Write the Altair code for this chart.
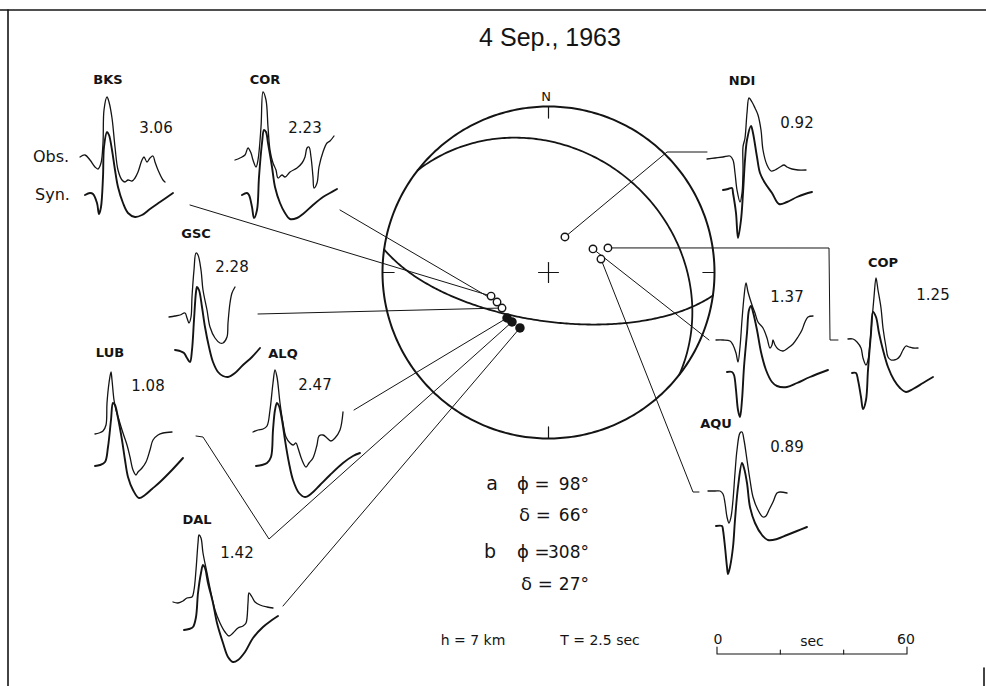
import altair as alt
import numpy as np
import pandas as pd

W, H = 986, 686

TITLE = "4 Sep., 1963"
# nodal planes: strike, dip (degrees)
PLANES = {"a": (98, 66), "b": (308, 27)}
NOTE_DEPTH = "h = 7 km"
NOTE_DURATION = "T = 2.5 sec"

# stations, amplitude ratios, first-motion polarity and position on the focal sphere
# (equal-area lower hemisphere, unit radius: east, north)
STATIONS = ["BKS", "COR", "GSC", "LUB", "ALQ", "DAL", "NDI", "ST8", "AQU", "COP"]
NAMES = ["BKS", "COR", "GSC", "LUB", "ALQ", "DAL", "NDI", "", "AQU", "COP"]
RATIOS = ["3.06", "2.23", "2.28", "1.08", "2.47", "1.42", "0.92", "1.37", "0.89", "1.25"]
COMPRESSION = [False, False, False, True, True, True, False, False, False, False]
SPHERE_E = [-0.346, -0.310, -0.280, -0.220, -0.250, -0.172, 0.099, 0.268, 0.316, 0.358]
SPHERE_N = [-0.142, -0.178, -0.214, -0.298, -0.274, -0.334, 0.214, 0.142, 0.081, 0.148]

# waveforms: time offset and amplitude (plot units, amplitude positive up)
OBS_T = {
    "BKS": [0, 5, 10, 15, 18, 21, 23, 24, 27, 29, 32, 35, 38, 42, 45, 48, 52, 55, 58, 62, 64, 67, 70, 73, 75, 78, 83, 85],
    "COR": [0, 5, 10, 13, 16, 18, 21, 23, 26, 28, 31, 33, 35, 38, 41, 43, 47, 50, 55, 62, 67, 70, 72, 74, 76, 78, 79, 82, 84, 88, 92, 95, 99],
    "GSC": [0, 6, 11, 16, 18, 20, 22, 23, 25, 27, 29, 32, 34, 38, 41, 46, 51, 54, 58, 59, 61, 63, 66],
    "LUB": [0, 4, 8, 11, 12, 14, 16, 17, 19, 21, 24, 28, 32, 35, 38, 41, 43, 47, 51, 55, 58, 63, 68, 77],
    "ALQ": [0, 5, 10, 14, 17, 20, 22, 24, 27, 30, 33, 37, 40, 43, 45, 49, 53, 56, 60, 64, 66, 70, 74, 78, 82, 87, 90],
    "DAL": [0, 5, 10, 14, 19, 21, 23, 25, 26, 28, 30, 34, 38, 42, 47, 52, 56, 60, 65, 70, 73, 75, 76, 79, 82, 87, 94, 100],
    "NDI": [0, 8, 16, 23, 26, 28, 30, 33, 35, 36, 36, 38, 40, 42, 45, 48, 51, 54, 56, 60, 64, 68, 73, 77, 80, 85, 91, 99],
    "ST8": [0, 7, 14, 17, 20, 22, 24, 26, 28, 30, 32, 36, 39, 42, 47, 51, 54, 56, 57, 59, 62, 67, 72, 77, 82, 86, 89, 92, 97],
    "AQU": [0, 7, 12, 15, 17, 19, 21, 23, 25, 27, 29, 32, 34, 36, 39, 42, 45, 50, 55, 58, 61, 65, 69, 72, 79],
    "COP": [0, 5, 9, 13, 15, 18, 20, 22, 24, 26, 28, 30, 33, 35, 38, 40, 43, 46, 49, 52, 55, 58, 61, 65, 70],
}
OBS_A = {
    "BKS": [0, 2, -3, -10, -12, -6, 14, 47, 60, 55, 39, 10, -13, -23, -25, -23, -24, -21, -15, -3, 0, -5, -1, 1, -5, -13, -23, -25],
    "COR": [0, 2, 5, 12, 7, 0, -7, 0, 33, 68, 60, 33, 10, -3, -10, -18, -15, -17, -12, -8, -3, 3, 12, 13, 3, -17, -28, -23, -7, 8, 17, 19, 24],
    "GSC": [0, 1, 2, 4, -1, -6, 0, 20, 47, 64, 62, 47, 27, 7, -10, -21, -26, -26, -20, -6, 14, 24, 30],
    "LUB": [0, 1, 3, 9, 31, 51, 62, 54, 34, 24, 14, 1, -11, -23, -36, -41, -38, -34, -28, -16, -6, -1, 1, 2],
    "ALQ": [0, 2, 3, 6, 22, 49, 62, 55, 29, 9, -5, -11, -13, -11, -16, -28, -35, -31, -26, -13, -4, -3, -6, -9, -6, 2, 20],
    "DAL": [0, -1, 1, 4, 5, 12, 32, 59, 67, 64, 49, 29, 9, -8, -21, -30, -34, -31, -26, -24, -21, -1, 9, 5, 0, -3, -5, -6],
    "NDI": [0, 1, 2, 3, -1, -14, -31, -43, -34, -11, 12, 21, 46, 61, 57, 51, 44, 29, 9, -6, -12, -11, -8, -6, -8, -10, -11, -11],
    "ST8": [0, 0, -1, -5, -13, -22, -7, 20, 43, 57, 48, 35, 27, 18, 12, 2, -8, -5, 0, -5, -9, -11, -8, -4, 3, 10, 18, 23, 24],
    "AQU": [0, 0, 0, -3, -12, -26, -32, -26, -9, 18, 41, 58, 59, 51, 31, 11, -6, -19, -26, -25, -19, -11, -2, -1, -2],
    "COP": [0, 0, -3, -9, -19, -26, -21, -4, 19, 42, 61, 49, 31, 11, -8, -18, -21, -21, -20, -17, -11, -7, -8, -9, -9],
}
SYN_T = {
    "BKS": [5, 10, 13, 17, 19, 21, 23, 24, 27, 29, 32, 35, 38, 43, 48, 55, 62, 70, 80, 93],
    "COR": [7, 12, 14, 17, 19, 22, 24, 27, 29, 31, 33, 37, 40, 45, 50, 55, 62, 68, 78, 88, 95, 102],
    "GSC": [6, 11, 15, 18, 21, 23, 25, 27, 28, 30, 33, 36, 40, 44, 49, 54, 59, 66, 74, 83, 91],
    "LUB": [0, 5, 10, 13, 16, 18, 20, 23, 27, 30, 33, 38, 44, 50, 57, 65, 77, 88],
    "ALQ": [3, 9, 14, 18, 20, 22, 24, 26, 29, 32, 36, 40, 46, 52, 59, 67, 77, 90, 100, 107],
    "DAL": [11, 16, 20, 23, 25, 28, 30, 32, 35, 40, 44, 50, 55, 60, 65, 72, 80, 90, 99, 105],
    "NDI": [16, 21, 25, 26, 29, 31, 34, 36, 38, 40, 44, 46, 50, 53, 58, 65, 72, 80, 90, 98, 105],
    "ST8": [11, 16, 18, 20, 22, 24, 26, 28, 31, 33, 35, 37, 41, 45, 50, 56, 61, 71, 81, 94, 112],
    "AQU": [8, 14, 15, 17, 19, 20, 22, 25, 27, 30, 34, 36, 39, 42, 47, 54, 60, 69, 79, 89, 99],
    "COP": [4, 8, 10, 13, 15, 18, 20, 23, 25, 28, 31, 35, 40, 46, 52, 58, 65, 75, 85],
}
SYN_A = {
    "BKS": [-38, -36, -37, -46, -57, -50, -20, 10, 25, 22, 7, -13, -30, -46, -56, -60, -58, -52, -45, -36],
    "COR": [-35, -33, -35, -47, -58, -50, -17, 17, 30, 28, 17, -7, -27, -43, -53, -59, -58, -54, -45, -37, -33, -29],
    "GSC": [-33, -34, -36, -41, -45, -33, -3, 25, 30, 27, 10, -10, -30, -45, -55, -59, -60, -56, -48, -40, -31],
    "LUB": [-32, -31, -28, -13, 14, 31, 29, 16, -6, -26, -43, -56, -64, -61, -55, -48, -36, -24],
    "ALQ": [-34, -33, -31, -25, 2, 22, 29, 26, 12, -8, -31, -48, -61, -65, -61, -53, -43, -31, -24, -21],
    "DAL": [-28, -27, -25, -15, 9, 29, 37, 34, 19, -1, -21, -41, -55, -60, -58, -50, -36, -25, -18, -14],
    "NDI": [-31, -30, -29, -34, -54, -79, -61, -34, -1, 19, 33, 26, 2, -14, -24, -34, -45, -43, -38, -35, -33],
    "ST8": [-32, -32, -35, -50, -70, -77, -60, -27, 7, 30, 34, 28, 10, -12, -30, -42, -46, -47, -43, -37, -30],
    "AQU": [-35, -35, -39, -56, -76, -83, -76, -56, -29, 4, 28, 23, 8, -16, -32, -44, -49, -48, -44, -40, -36],
    "COP": [-34, -34, -41, -58, -70, -61, -31, 6, 27, 22, 6, -11, -28, -41, -49, -53, -50, -44, -38],
}

# time scale bar (seconds)
SCALE_TICKS = [0, 20, 40, 60]
SCALE_LABELS = ["0", "sec", "60"]

# ---------------- layout (page units) ----------------
NET_CX, NET_CY, NET_R = 548.5, 272.5, 166.0
LAYOUT = {
    # trace origin, station-name position, ratio position, leader route (from sphere point)
    "BKS": dict(o=(80, 157), name=(108, 80), ratio=(156, 128), lead=[(190, 205)]),
    "COR": dict(o=(235, 160), name=(265, 80), ratio=(305, 128), lead=[(340, 210)]),
    "GSC": dict(o=(169, 317), name=(196, 234), ratio=(232, 267), lead=[(258, 314)]),
    "LUB": dict(o=(95, 434), name=(110, 353), ratio=(148, 386), lead=[(269, 539), (203, 437), (196, 436)]),
    "ALQ": dict(o=(253, 432), name=(283, 354), ratio=(315, 385), lead=[(354, 410)]),
    "DAL": dict(o=(173, 602), name=(197, 520), ratio=(237, 553), lead=[(283, 606)]),
    "NDI": dict(o=(707, 159), name=(742, 81), ratio=(797, 123), lead=[(667, 152), (707, 152)]),
    "ST8": dict(o=(716, 340), name=(745, 262), ratio=(787, 297), lead=[(709, 340)]),
    "AQU": dict(o=(708, 491), name=(716, 424), ratio=(787, 447), lead=[(693, 492), (699, 492)]),
    "COP": dict(o=(848, 339), name=(883, 263), ratio=(933, 295), lead=[(829, 248), (830, 340), (838, 340)]),
}
BAR_X0, BAR_Y, PX_PER_SEC = 717, 654, 190 / 60
INK = "#141414"
FONT = "DejaVu Sans"


def to_page(e, n):
    return NET_CX + NET_R * np.asarray(e), NET_CY - NET_R * np.asarray(n)


def plane_curve(strike, dip, n=181):
    s, d = np.radians(strike), np.radians(dip)
    t = np.radians(np.linspace(0, 180, n))
    sv = np.array([np.sin(s), np.cos(s), 0.0])
    dv = np.array([np.cos(d) * np.sin(s + np.pi / 2), np.cos(d) * np.cos(s + np.pi / 2), np.sin(d)])
    v = np.outer(np.cos(t), sv) + np.outer(np.sin(t), dv)
    plunge = np.arcsin(np.clip(v[:, 2], -1, 1))
    trend = np.arctan2(v[:, 0], v[:, 1])
    r = np.sqrt(2) * np.sin((np.pi / 2 - plunge) / 2)
    return r * np.sin(trend), r * np.cos(trend)


xs = alt.Scale(domain=[0, W], nice=False, zero=False)
ys = alt.Scale(domain=[0, H], reverse=True, nice=False, zero=False)
X = alt.X("x:Q", scale=xs, axis=None)
Y = alt.Y("y:Q", scale=ys, axis=None)


def polylines(rows, width, smooth=False):
    df = pd.DataFrame(rows, columns=["id", "k", "x", "y"])
    kw = dict(color=INK, strokeWidth=width, strokeJoin="round", strokeCap="round")
    if smooth:
        kw["interpolate"] = "catmull-rom"
    return alt.Chart(df).mark_line(**kw).encode(X, Y, detail="id:N", order="k:Q")


def texts(rows, size, align="center", weight="normal", font=FONT):
    df = pd.DataFrame(rows, columns=["x", "y", "label"])
    return alt.Chart(df).mark_text(
        color=INK, fontSize=size, align=align, baseline="middle", fontWeight=weight, font=font
    ).encode(X, Y, text="label:N")


# ---- frame
frame_rows = [("top", 0, 0, 10), ("top", 1, W, 10), ("left", 0, 8, 10), ("left", 1, 8, H),
              ("edge", 0, 984, 668), ("edge", 1, 984, H)]

# ---- stereonet: primitive, nodal planes, ticks, centre cross
th = np.radians(np.linspace(0, 360, 361))
px, py = to_page(np.sin(th), np.cos(th))
net_rows = [("prim", i, a, b) for i, (a, b) in enumerate(zip(px, py))]
plane_rows = []
for key, (stk, dp) in PLANES.items():
    e, n = plane_curve(stk, dp)
    qx, qy = to_page(e, n)
    plane_rows += [(key, i, a, b) for i, (a, b) in enumerate(zip(qx, qy))]
tick_rows = []
for az in [0, 90, 180, 270]:
    a = np.radians(az)
    for j, r in enumerate([1.0, 0.93]):
        tx, ty = to_page(r * np.sin(a), r * np.cos(a))
        tick_rows.append((f"t{az}", j, float(tx), float(ty)))
for j, (e, n) in enumerate([(-0.06, 0), (0.06, 0)]):
    tx, ty = to_page(e, n)
    tick_rows.append(("ch", j, float(tx), float(ty)))
for j, (e, n) in enumerate([(0, -0.06), (0, 0.06)]):
    tx, ty = to_page(e, n)
    tick_rows.append(("cv", j, float(tx), float(ty)))

# ---- leaders, traces and station points
lead_rows, obs_rows, syn_rows, name_rows, ratio_rows = [], [], [], [], []
open_pts, solid_pts = [], []
for st, nm, rt, comp, e, n in zip(STATIONS, NAMES, RATIOS, COMPRESSION, SPHERE_E, SPHERE_N):
    lay = LAYOUT[st]
    sx, sy = to_page(e, n)
    route = [(float(sx), float(sy))] + lay["lead"]
    lead_rows += [(st, i, a, b) for i, (a, b) in enumerate(route)]
    ox, oy = lay["o"]
    obs_rows += [(st, i, ox + t, oy - v) for i, (t, v) in enumerate(zip(OBS_T[st], OBS_A[st]))]
    syn_rows += [(st, i, ox + t, oy - v) for i, (t, v) in enumerate(zip(SYN_T[st], SYN_A[st]))]
    if nm:
        name_rows.append((*lay["name"], nm))
    ratio_rows.append((*lay["ratio"], rt))
    (solid_pts if comp else open_pts).append((float(sx), float(sy)))

open_df = pd.DataFrame(open_pts, columns=["x", "y"])
solid_df = pd.DataFrame(solid_pts, columns=["x", "y"])

# ---- time scale bar
bar_rows = [("bar", 0, BAR_X0, BAR_Y - 7), ("bar", 1, BAR_X0, BAR_Y),
            ("bar", 2, BAR_X0 + 60 * PX_PER_SEC, BAR_Y), ("bar", 3, BAR_X0 + 60 * PX_PER_SEC, BAR_Y - 7)]
for s in SCALE_TICKS[1:-1]:
    bar_rows += [(f"b{s}", 0, BAR_X0 + s * PX_PER_SEC, BAR_Y), (f"b{s}", 1, BAR_X0 + s * PX_PER_SEC, BAR_Y - 4)]
bar_text = [(BAR_X0 + 1, BAR_Y - 14, SCALE_LABELS[0]),
            (BAR_X0 + 30 * PX_PER_SEC, BAR_Y - 12, SCALE_LABELS[1]),
            (BAR_X0 + 60 * PX_PER_SEC - 1, BAR_Y - 14, SCALE_LABELS[2])]

sa, da = PLANES["a"]
sb, db = PLANES["b"]

layers = [
    polylines(frame_rows, 1.6),
    polylines(lead_rows, 1.0),
    polylines(net_rows, 2.0),
    polylines(plane_rows, 1.8),
    polylines(tick_rows, 1.2),
    polylines(obs_rows, 1.3, smooth=True),
    polylines(syn_rows, 1.9, smooth=True),
    polylines(bar_rows, 1.1),
    alt.Chart(open_df).mark_point(shape="circle", size=56, filled=True, fill="white",
                                  stroke=INK, strokeWidth=1.4, opacity=1).encode(X, Y),
    alt.Chart(solid_df).mark_point(shape="circle", size=90, filled=True, color=INK, opacity=1).encode(X, Y),
    texts([(550, 38, TITLE)], 25, font="Liberation Sans Narrow, Liberation Sans, sans-serif"),
    texts([(546, 97, "N")], 13),
    texts(name_rows, 13, weight="bold"),
    texts(ratio_rows, 15),
    texts([(33, 157, "Obs."), (35, 195, "Syn.")], 16, align="left"),
    texts([(492, 484, "a"), (490, 552, "b")], 19),
    texts([(517, 485, "ϕ ="), (519, 516, "δ ="), (517, 553, "ϕ ="), (521, 585, "δ =")], 18, align="left"),
    texts([(589, 485, f"{sa}°"), (589, 516, f"{da}°"), (589, 553, f"{sb}°"), (589, 585, f"{db}°")], 17, align="right"),
    texts([(473, 641, NOTE_DEPTH), (600, 641, NOTE_DURATION)], 14),
    texts(bar_text, 14),
]

chart = alt.layer(*layers).properties(
    width=W, height=H, padding=0, autosize=alt.AutoSizeParams(type="none")
).configure_view(strokeWidth=0)

chart.save("out.html", embed_options={"renderer": "svg", "actions": False})
